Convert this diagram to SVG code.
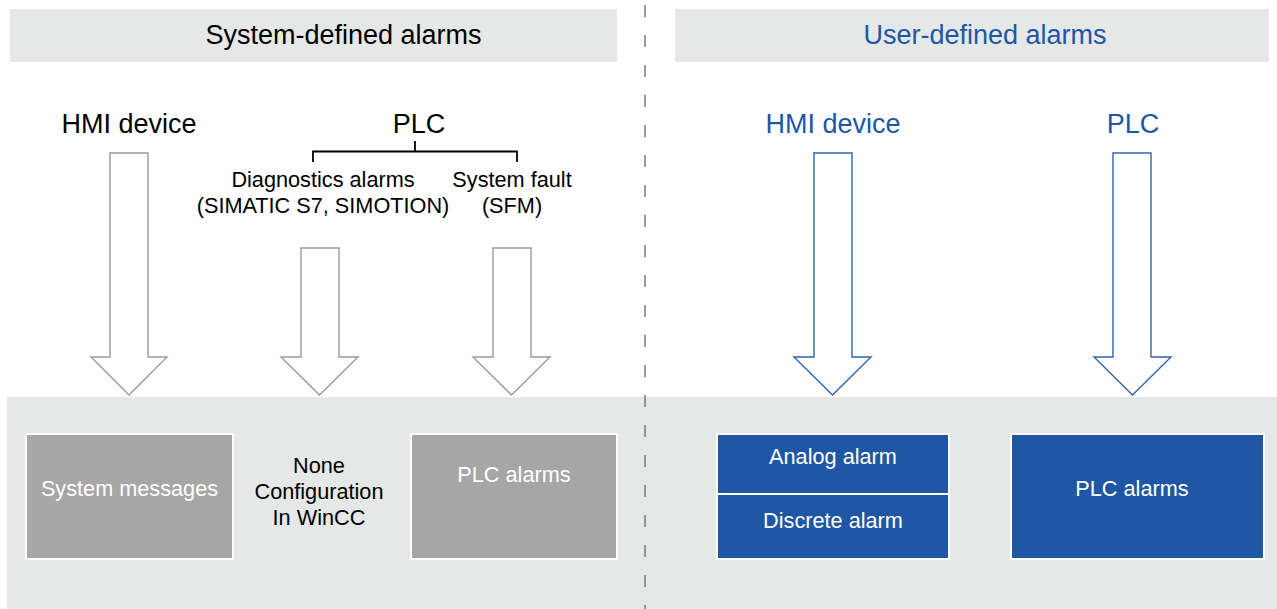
<svg xmlns="http://www.w3.org/2000/svg" width="1277" height="609" viewBox="0 0 1277 609">
<style>
text{font-family:"Liberation Sans",Arial,sans-serif;text-anchor:middle}
.hdr{font-size:27px}
.lbl{font-size:27px}
.sm{font-size:21.7px}
.blk{fill:#000}
.blu{fill:#2057a5}
.wht{fill:#fff}
.garrow{fill:#fff;stroke:#9a9a9a;stroke-width:1.4}
.barrow{fill:#fff;stroke:#2e64b0;stroke-width:1.4}
.gbox{fill:#a6a6a6;stroke:#fff;stroke-width:2}
.bbox{fill:#1f57a4;stroke:#fff;stroke-width:2}
.panel{fill:#e6e7e7}
</style>
<rect width="1277" height="609" fill="#fff"/>
<g id="panels">
<rect class="panel" x="10" y="9" width="607" height="53"/>
<rect class="panel" x="675" y="9" width="594" height="53"/>
<rect class="panel" x="7" y="397" width="1270" height="212"/>
</g>
<line id="divider" x1="645" y1="0" x2="645" y2="609" stroke="#7a7a7a" stroke-width="1.5" stroke-dasharray="12 18" stroke-dashoffset="-5"/>
<g id="header-system"><text class="hdr blk" x="343.5" y="44">System-defined alarms</text></g>
<g id="header-user"><text class="hdr blu" x="985" y="44">User-defined alarms</text></g>
<g id="hmi-left"><text class="lbl blk" x="129" y="133">HMI device</text></g>
<g id="plc-left"><text class="lbl blk" x="419" y="133">PLC</text></g>
<g id="diag"><text class="sm blk" x="323" y="187">Diagnostics alarms</text><text class="sm blk" x="323" y="213">(SIMATIC S7, SIMOTION)</text></g>
<g id="sysfault"><text class="sm blk" x="512" y="187">System fault</text><text class="sm blk" x="512" y="213">(SFM)</text></g>
<g id="hmi-right"><text class="lbl blu" x="833" y="133">HMI device</text></g>
<g id="plc-right"><text class="lbl blu" x="1133" y="133">PLC</text></g>
<g id="connectors">
<path d="M415 141V152M313 162V151.5H517V162" fill="none" stroke="#000" stroke-width="1.8"/>
<polygon class="garrow" points="110,153 148,153 148,357 167,357 129,395 91,357 110,357"/>
<polygon class="garrow" points="301,248 339,248 339,357 358,357 319.5,395 281,357 301,357"/>
<polygon class="garrow" points="493,248 531,248 531,357 550,357 511.5,395 473,357 493,357"/>
<polygon class="barrow" points="814,153 852,153 852,357 871,357 832.5,395 794,357 814,357"/>
<polygon class="barrow" points="1113,153 1151,153 1151,357 1171,357 1132.5,395 1094,357 1113,357"/>
</g>
<g id="system-messages"><rect class="gbox" x="26" y="434" width="207" height="125"/><text class="sm wht" x="129.5" y="496">System messages</text></g>
<g id="none-config"><text class="sm blk" x="319" y="473">None</text><text class="sm blk" x="319" y="499">Configuration</text><text class="sm blk" x="319" y="525">In WinCC</text></g>
<g id="plc-alarms-left"><rect class="gbox" x="411" y="434" width="206" height="125"/><text class="sm wht" x="514" y="482">PLC alarms</text></g>
<g id="analog-alarm"><rect class="bbox" x="717" y="434" width="232" height="60"/><text class="sm wht" x="833" y="464">Analog alarm</text></g>
<g id="discrete-alarm"><rect class="bbox" x="717" y="494" width="232" height="65"/><text class="sm wht" x="833" y="528">Discrete alarm</text></g>
<g id="plc-alarms-right"><rect class="bbox" x="1011" y="434" width="253" height="125"/><text class="sm wht" x="1132" y="496">PLC alarms</text></g>
</svg>
